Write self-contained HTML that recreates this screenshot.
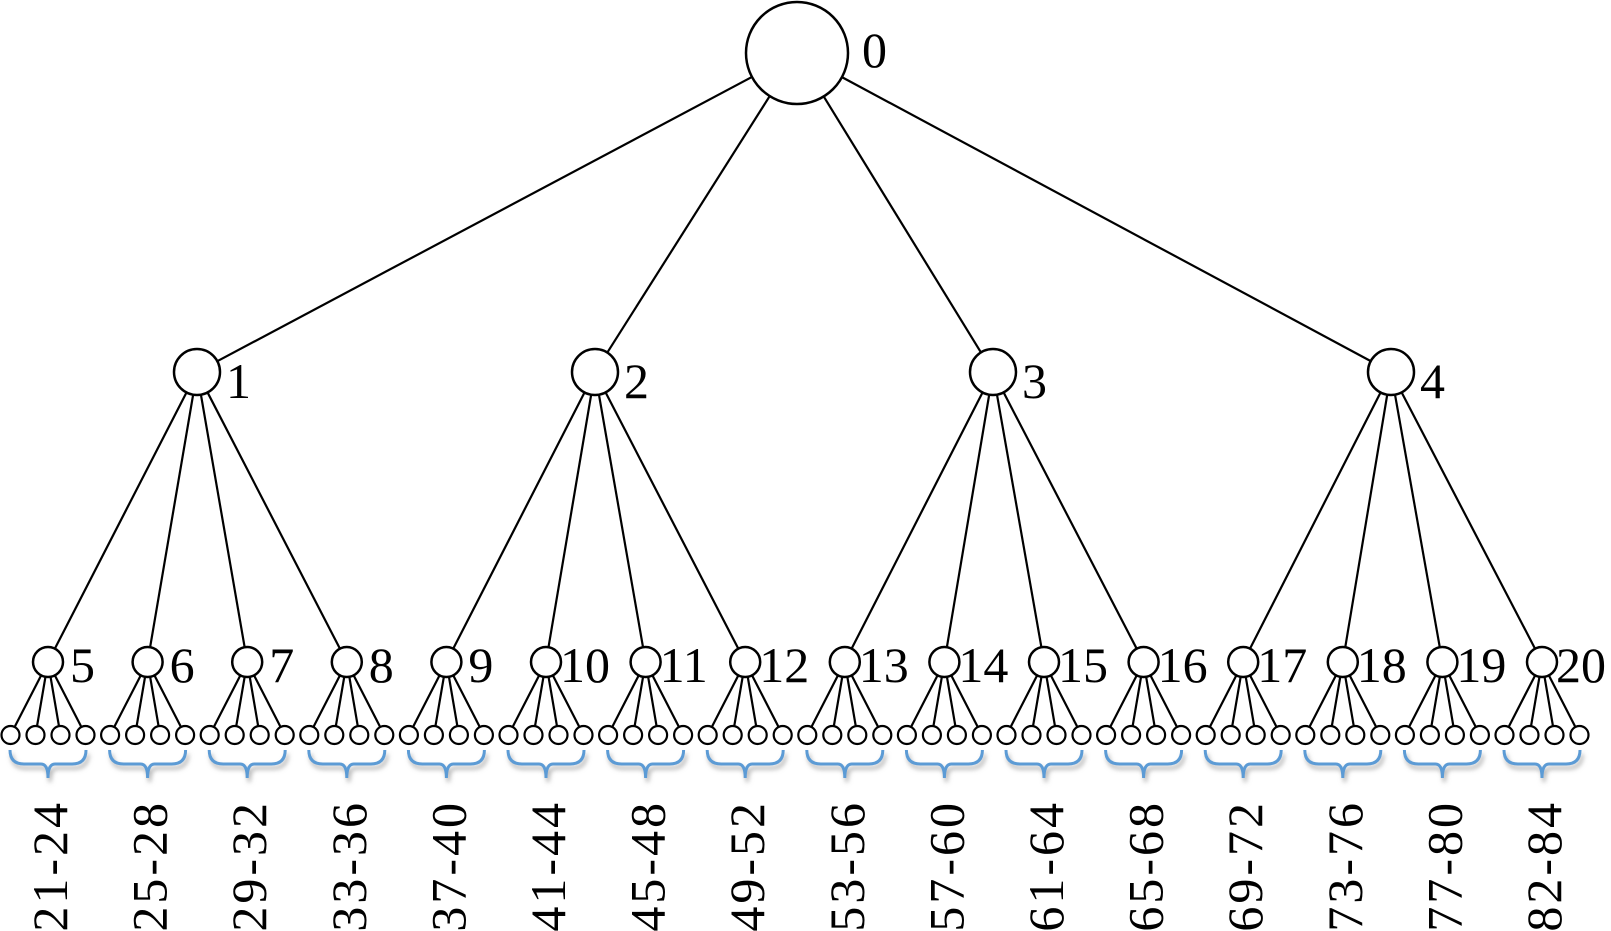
<!DOCTYPE html>
<html><head><meta charset="utf-8"><style>
html,body{margin:0;padding:0;background:#fff;width:1611px;height:931px;overflow:hidden}
svg{display:block}
text{font-family:"Liberation Serif",serif;font-size:50px;fill:#000}
</style></head><body>
<svg id="s" width="1611" height="931" xmlns="http://www.w3.org/2000/svg">
<defs><filter id="sh" x="-20%" y="-50%" width="140%" height="250%"><feDropShadow dx="2" dy="4" stdDeviation="2.5" flood-color="#777" flood-opacity="0.6"/></filter></defs>
<g id="g"></g>
</svg>
<script>
var NS="http://www.w3.org/2000/svg",g=document.getElementById('g');
function el(t,a,txt){var e=document.createElementNS(NS,t);for(var k in a)e.setAttribute(k,a[k]);if(txt)e.textContent=txt;g.appendChild(e);return e;}
function line(x1,y1,r1,x2,y2,r2,w){var dx=x2-x1,dy=y2-y1,d=Math.hypot(dx,dy);el('line',{x1:x1+dx/d*r1,y1:y1+dy/d*r1,x2:x2-dx/d*r2,y2:y2-dy/d*r2,stroke:'#000','stroke-width':w});}
var R={x:797,y:53,r:51};
var L1=[197,595,993,1391],Y1=372,R1=23;
var Y2=662,R2=15,Y3=735,R3=9;
function x2(i){return 48+99.6*i;}
for(var i=0;i<4;i++){line(R.x,R.y,R.r,L1[i],Y1,R1,2.2);
 for(var j=0;j<4;j++){var k=i*4+j;line(L1[i],Y1,R1,x2(k),Y2,R2,2.2);}}
for(var k=0;k<16;k++){var c=x2(k);
 for(var m=0;m<4;m++){var lx=c-37.5+25*m;line(c,Y2,R2,lx,Y3,R3,2.2);el('circle',{cx:lx,cy:Y3,r:R3,fill:'#fff',stroke:'#000','stroke-width':2.2});}
 el('circle',{cx:c,cy:Y2,r:R2,fill:'#fff',stroke:'#000','stroke-width':2.5});
 el('text',{x:c+(k+5>=10?14:22),y:682,'font-size':k+5>=10?50:52},String(k+5));
 el('path',{d:'M'+(c-38)+',750 q0,14 14,14 H'+(c-7)+' q7,0 7,14 q0,-14 7,-14 H'+(c+24)+' q14,0 14,-14',fill:'none',stroke:'#5b9bd5','stroke-width':3,filter:'url(#sh)'});
 var a=21+4*k,b=a+3;var lab=a+'-'+b;if(k==15)lab='82-84';
 el('text',{x:0,y:0,'text-anchor':'end','font-size':56,'letter-spacing':3,transform:'translate('+(c+19)+',800) rotate(-90)'},lab);
}
for(var i=0;i<4;i++){el('circle',{cx:L1[i],cy:Y1,r:R1,fill:'#fff',stroke:'#000','stroke-width':2.5});el('text',{x:L1[i]+29,y:398,'font-size':54},String(i+1));}
el('circle',{cx:R.x,cy:R.y,r:R.r,fill:'#fff',stroke:'#000','stroke-width':2.5});
el('text',{x:862,y:67,'font-size':54},'0');
</script>
</body></html>
